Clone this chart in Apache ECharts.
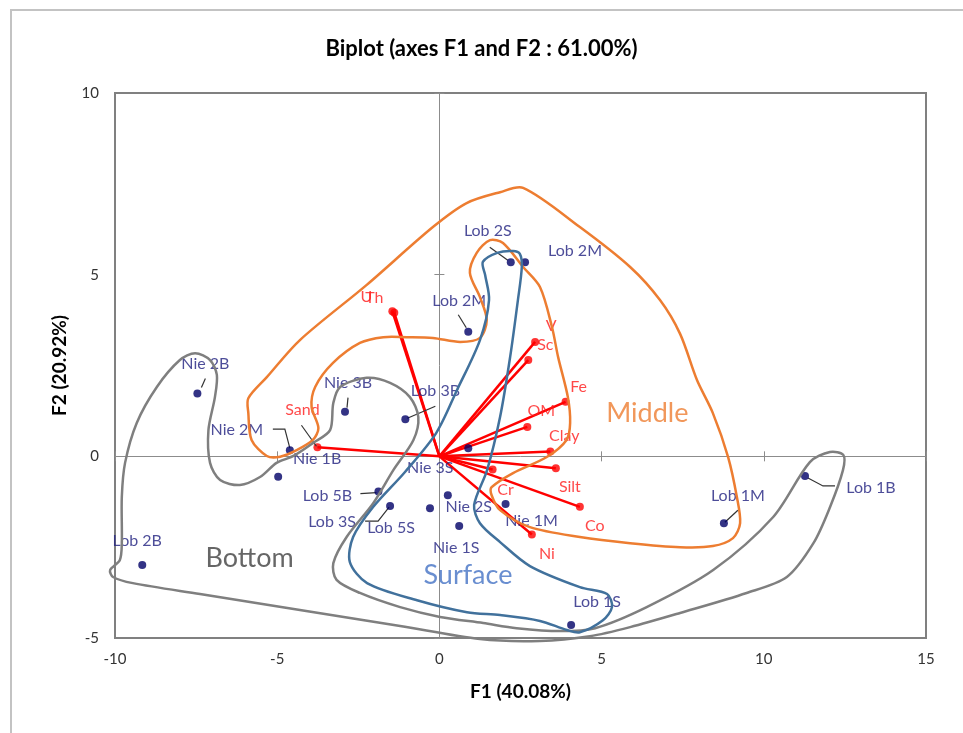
<!DOCTYPE html>
<html>
<head>
<meta charset="utf-8">
<script src="https://cdn.jsdelivr.net/npm/echarts@6/dist/echarts.min.js"></script>
<style>
  html, body { margin: 0; padding: 0; background: #fff; }
  #chart { width: 963px; height: 733px; }
</style>
</head>
<body>
<div id="chart"></div>
<script>
// ---- Observations: sample scores on F1 / F2 ----
const obsNames = ['Lob 2S', 'Lob 2M', 'Lob 2M', 'Nie 2B', 'Nie 3B', 'Lob 3B', 'Nie 2M', 'Nie 1B', 'Lob 5B', 'Lob 3S',
                  'Lob 5S', 'Nie 3S', 'Nie 2S', 'Nie 1S', 'Nie 1M', 'Lob 1M', 'Lob 1B', 'Lob 1S', 'Lob 2B'];
const obsF1 = [2.20, 2.64, 0.89, -7.46, -2.91, -1.05, -4.61, -4.97, -1.88, -1.52,
               -0.29, 0.89, 0.26, 0.61, 2.04, 8.77, 11.27, 4.06, -9.16];
const obsF2 = [5.34, 5.34, 3.43, 1.73, 1.23, 1.02, 0.17, -0.56, -0.97, -1.37,
               -1.43, 0.22, -1.07, -1.92, -1.31, -1.84, -0.54, -4.64, -2.99];

// ---- Variables: loadings, drawn as vectors from the origin ----
const varNames = ['U', 'Th', 'V', 'Sc', 'Fe', 'OM', 'Clay', 'Silt', 'Cr', 'Co', 'Ni', 'Sand'];
const varF1 = [-1.45, -1.39, 2.95, 2.74, 3.89, 2.71, 3.42, 3.59, 1.64, 4.33, 2.85, -3.76];
const varF2 = [3.99, 3.95, 3.15, 2.65, 1.50, 0.81, 0.13, -0.33, -0.36, -1.39, -2.15, 0.25];

// ---- Axis ticks ----
const xTicks = [-10, -5, 0, 5, 10, 15];
const yTicks = [-5, 0, 5, 10];

// ---- Group outlines (in F1 / F2 units) ----
const groupNames = ['Middle', 'Bottom', 'Surface'];
const middleOutline = [
  [1.61, -0.85], [2.27, -0.46], [3.31, -0.02], [3.92, 0.45], [4.03, 0.92], [3.96, 1.63], [3.66, 2.73],
  [3.47, 3.56], [3.10, 4.66], [2.58, 5.21], [1.96, 5.87], [1.56, 5.95], [1.15, 5.60], [0.94, 5.05],
  [1.25, 4.38], [1.46, 3.75], [1.25, 3.26], [0.64, 3.15], [-0.20, 3.26], [-1.01, 3.28], [-1.73, 3.28],
  [-2.45, 3.12], [-3.28, 2.57], [-3.83, 1.91], [-3.94, 1.36], [-3.73, 0.78], [-3.90, 0.45], [-4.40, 0.17],
  [-4.91, -0.01], [-5.32, 0.01], [-5.79, 0.45], [-5.89, 1.19], [-5.89, 1.60], [-5.32, 2.18], [-4.30, 3.20],
  [-2.24, 4.72], [-0.20, 6.31], [0.84, 6.97], [1.87, 7.27], [2.58, 7.39], [4.33, 6.31], [5.88, 5.21],
  [6.80, 4.30], [7.42, 3.37], [7.94, 2.10], [8.43, 1.19], [8.90, -0.02], [9.17, -1.12], [9.27, -1.84],
  [9.05, -2.25], [8.43, -2.47], [7.42, -2.50], [5.88, -2.39], [4.33, -2.22], [2.79, -1.95], [1.87, -1.48],
  [1.61, -1.07]
];
const bottomOutline = [
  [-10.15, -3.13], [-9.85, -2.85], [-9.79, -2.39], [-9.79, -1.12], [-9.69, -0.18], [-9.33, 0.92],
  [-8.71, 1.91], [-8.00, 2.65], [-7.53, 2.84], [-7.07, 2.65], [-6.86, 2.24], [-6.92, 1.63], [-7.12, 0.72],
  [-7.07, -0.18], [-6.76, -0.65], [-6.15, -0.79], [-5.53, -0.57], [-5.02, -0.18], [-4.50, 0.01],
  [-3.89, 0.37], [-3.37, 0.72], [-3.27, 1.47], [-3.06, 1.91], [-2.24, 2.16], [-1.52, 2.02], [-0.91, 1.63],
  [-0.65, 1.08], [-0.80, 0.45], [-1.42, -0.38], [-2.04, -1.29], [-2.86, -2.22], [-3.27, -2.94],
  [-3.17, -3.40], [-2.45, -3.76], [-1.21, -4.15], [0.02, -4.42], [1.35, -4.59], [2.38, -4.73],
  [3.72, -4.81], [4.80, -4.73], [6.39, -4.15], [8.44, -3.13], [10.29, -1.67], [11.42, -0.16],
  [12.04, 0.12], [12.45, 0.04], [12.44, -0.38], [12.04, -1.40], [11.53, -2.39], [10.71, -3.32],
  [9.47, -3.76], [7.42, -4.31], [5.88, -4.70], [4.64, -4.95], [3.10, -5.08], [1.25, -5.03],
  [-1.21, -4.67], [-4.30, -4.23], [-7.38, -3.79], [-9.45, -3.49], [-10.06, -3.32]
];
const surfaceOutline = [
  [2.54, 5.21], [2.42, 4.30], [2.18, 2.73], [1.87, 1.08], [1.47, -0.38], [1.07, -1.34], [1.25, -1.84],
  [1.87, -2.36], [2.79, -3.02], [4.33, -3.60], [5.17, -3.79], [5.32, -4.15], [5.04, -4.51], [4.33, -4.84],
  [3.93, -4.78], [3.10, -4.53], [1.87, -4.37], [0.85, -4.29], [-0.69, -3.96], [-2.23, -3.49],
  [-2.76, -2.91], [-2.66, -2.22], [-2.05, -1.40], [-1.06, -0.43], [-0.10, 0.64], [0.54, 1.82],
  [1.25, 3.20], [1.53, 4.30], [1.41, 4.99], [1.34, 5.35], [1.78, 5.60], [2.27, 5.65], [2.48, 5.57]
];
const groupLabelF1 = [6.41, -5.85, 0.88];
const groupLabelF2 = [1.19, -2.80, -3.27];

// ---- Label placement (pixel offsets from each point) ----
const obsLabelOffset = [[-23, -31], [50, -11], [-9, -31], [8, -30], [3, -29], [30, -28], [-53, -20], [39, -18],
  [-51, 4], [-58, 16], [-39, 20], [-38, 20], [21, 12], [-3, 22], [26, 17], [14, -27], [66, 12], [26, -23], [-5, -24]];
const obsLeader = [
  [[-21, -15], [-3, -2]], null, [[-10, -17], [-2, -4]], [[8, -15], [4, -6]], [[3, -14], [2, -4]],
  [[30, -13], [2, -1]], [[-17, -21], [-5, -21], [0, -2]], null, [[-18, 2], [-2, 1]],
  [[-25, 15], [-12, 15], [-1, 1]], null, null, null, null, null, [[14, -13], [1, -1]],
  [[3, 2], [18, 10], [30, 10]], null, null
];
const varLabelOffset = [[-26, -15], [-20, -15], [16, -16], [17, -15], [13, -15], [14, -16], [14, -16],
  [14, 19], [13, 20], [15, 19], [15, 19], [-15, -37]];
const varLeader = [null, null, null, null, null, null, null, null, null, null, null, [[-16, -22], [-1, -1]]];

const FONT = 'Lato, "Open Sans", sans-serif';
const OBS_COLOR = '#000066';
const OBS_TEXT = '#20207f';
const VAR_COLOR = '#ff0000';
const groupColors = ['#ed7d31', '#7f7f7f', '#41719c'];
const groupTextColors = ['#ed7d31', '#404040', '#4472c4'];
const groupOutlines = [middleOutline, bottomOutline, surfaceOutline];

const chart = echarts.init(document.getElementById('chart'), null, { renderer: 'canvas' });

const tickFmt = (list) => (v) => (list.indexOf(v) >= 0 ? String(v) : '');

// Leader items: [F1, F2, index into leader table]
const leaderItems = [];
obsLeader.forEach((l, i) => { if (l) leaderItems.push([obsF1[i], obsF2[i], leaderItems.length]); });
const leaderPaths = obsLeader.filter(Boolean);
varLeader.forEach((l, i) => { if (l) { leaderItems.push([varF1[i], varF2[i], leaderPaths.length]); leaderPaths.push(l); } });

const zeroAxisBase = { type: 'value', gridIndex: 0, axisLabel: { show: false }, splitLine: { show: false } };
const zeroLine = { color: '#8c8c8c', width: 1 };

const option = {
  backgroundColor: '#ffffff',
  animation: false,
  title: {
    text: 'Biplot (axes F1 and F2 : 61.00%)',
    left: 'center',
    top: 33,
    textStyle: { fontFamily: FONT, fontWeight: 'bold', fontSize: 22, color: '#000' }
  },
  graphic: [{
    type: 'rect', z: -10, silent: true,
    shape: { x: 11, y: 10, width: 1000, height: 800 },
    style: { fill: 'none', stroke: '#c3c3c3', lineWidth: 2 }
  }],
  grid: {
    left: 115, right: 37, top: 93, bottom: 95,
    show: true, borderColor: '#808080', borderWidth: 2,
    containLabel: false, outerBoundsMode: 'none'
  },
  xAxis: [
    {
      type: 'value', min: -10, max: 15, interval: 5, position: 'bottom',
      axisLine: { show: false, onZero: false }, axisTick: { show: false }, splitLine: { show: false },
      axisLabel: { fontFamily: FONT, fontSize: 15, color: '#333', margin: 14, formatter: tickFmt(xTicks) },
      name: 'F1 (40.08%)', nameLocation: 'middle', nameGap: 44,
      nameTextStyle: { fontFamily: FONT, fontWeight: 'bold', fontSize: 19, color: '#000' }
    },
    Object.assign({}, zeroAxisBase, { min: -10, max: 15, interval: 5,
      axisLine: { show: true, onZero: true, onZeroAxisIndex: 0, lineStyle: zeroLine },
      axisTick: { show: true, inside: false, length: 5, lineStyle: zeroLine } }),
    Object.assign({}, zeroAxisBase, { min: -10, max: 15, interval: 5,
      axisLine: { show: false, onZero: true, onZeroAxisIndex: 0 },
      axisTick: { show: true, inside: true, length: 5, lineStyle: zeroLine } })
  ],
  yAxis: [
    {
      type: 'value', min: -5, max: 10, interval: 5, position: 'left',
      axisLine: { show: false, onZero: false }, axisTick: { show: false }, splitLine: { show: false },
      axisLabel: { fontFamily: FONT, fontSize: 15, color: '#333', margin: 16, formatter: tickFmt(yTicks) },
      name: 'F2 (20.92%)', nameLocation: 'middle', nameGap: 46,
      nameTextStyle: { fontFamily: FONT, fontWeight: 'bold', fontSize: 19, color: '#000' }
    },
    Object.assign({}, zeroAxisBase, { min: -5, max: 10, interval: 5,
      axisLine: { show: true, onZero: true, onZeroAxisIndex: 0, lineStyle: zeroLine },
      axisTick: { show: true, inside: false, length: 5, lineStyle: zeroLine } }),
    Object.assign({}, zeroAxisBase, { min: -5, max: 10, interval: 5,
      axisLine: { show: false, onZero: true, onZeroAxisIndex: 0 },
      axisTick: { show: true, inside: true, length: 5, lineStyle: zeroLine } })
  ],
  series: [
    // variable vectors
    {
      type: 'custom', name: 'vectors', coordinateSystem: 'cartesian2d', xAxisIndex: 0, yAxisIndex: 0,
      silent: true, z: 2, clip: false,
      data: varNames.map((n, i) => [varF1[i], varF2[i]]),
      encode: { x: 0, y: 1 },
      renderItem(params, api) {
        const p0 = api.coord([0, 0]);
        const p1 = api.coord([api.value(0), api.value(1)]);
        return { type: 'line', shape: { x1: p0[0], y1: p0[1], x2: p1[0], y2: p1[1] },
                 style: { stroke: VAR_COLOR, lineWidth: 2.5 } };
      }
    },
    // variable end points + names
    {
      type: 'scatter', name: 'variables', xAxisIndex: 0, yAxisIndex: 0, z: 3, silent: true,
      symbol: 'circle', symbolSize: 8, itemStyle: { color: VAR_COLOR },
      data: varNames.map((n, i) => ({
        name: n, value: [varF1[i], varF2[i]],
        label: { offset: varLabelOffset[i] }
      })),
      label: { show: true, position: 'inside', formatter: '{b}', fontFamily: FONT, fontSize: 16, color: '#ff1a1a' }
    },
    // observations
    {
      type: 'scatter', name: 'observations', xAxisIndex: 0, yAxisIndex: 0, z: 4, silent: true,
      symbol: 'circle', symbolSize: 8, itemStyle: { color: OBS_COLOR },
      data: obsNames.map((n, i) => ({
        name: n, value: [obsF1[i], obsF2[i]],
        label: { offset: obsLabelOffset[i] }
      })),
      label: { show: true, position: 'inside', formatter: '{b}', fontFamily: FONT, fontSize: 16, color: OBS_TEXT }
    },
    // label leader lines
    {
      type: 'custom', name: 'leaders', coordinateSystem: 'cartesian2d', xAxisIndex: 0, yAxisIndex: 0,
      silent: true, z: 4, clip: false,
      data: leaderItems, encode: { x: 0, y: 1 },
      renderItem(params, api) {
        const base = api.coord([api.value(0), api.value(1)]);
        const path = leaderPaths[api.value(2)];
        return { type: 'polyline', shape: { points: path.map(o => [base[0] + o[0], base[1] + o[1]]) },
                 style: { stroke: '#333333', lineWidth: 1.2, fill: null } };
      }
    },
    // group outlines
    {
      type: 'custom', name: 'groups', coordinateSystem: 'cartesian2d', xAxisIndex: 0, yAxisIndex: 0,
      silent: true, z: 5, clip: false,
      data: groupOutlines.map((g, i) => [g[0][0], g[0][1], i]), encode: { x: 0, y: 1 },
      renderItem(params, api) {
        const i = api.value(2);
        const pts = groupOutlines[i].map(p => api.coord(p));
        return { type: 'polygon', shape: { points: pts, smooth: 0.3 },
                 style: { fill: 'none', stroke: groupColors[i], lineWidth: 2.5 } };
      }
    },
    // group names
    {
      type: 'scatter', name: 'groupNames', xAxisIndex: 0, yAxisIndex: 0, z: 6, silent: true,
      symbolSize: 0,
      data: groupNames.map((n, i) => ({
        name: n, value: [groupLabelF1[i], groupLabelF2[i]],
        label: { color: groupTextColors[i] }
      })),
      label: { show: true, position: 'inside', formatter: '{b}', fontFamily: FONT, fontSize: 27 }
    }
  ]
};

chart.setOption(option);
</script>
</body>
</html>
